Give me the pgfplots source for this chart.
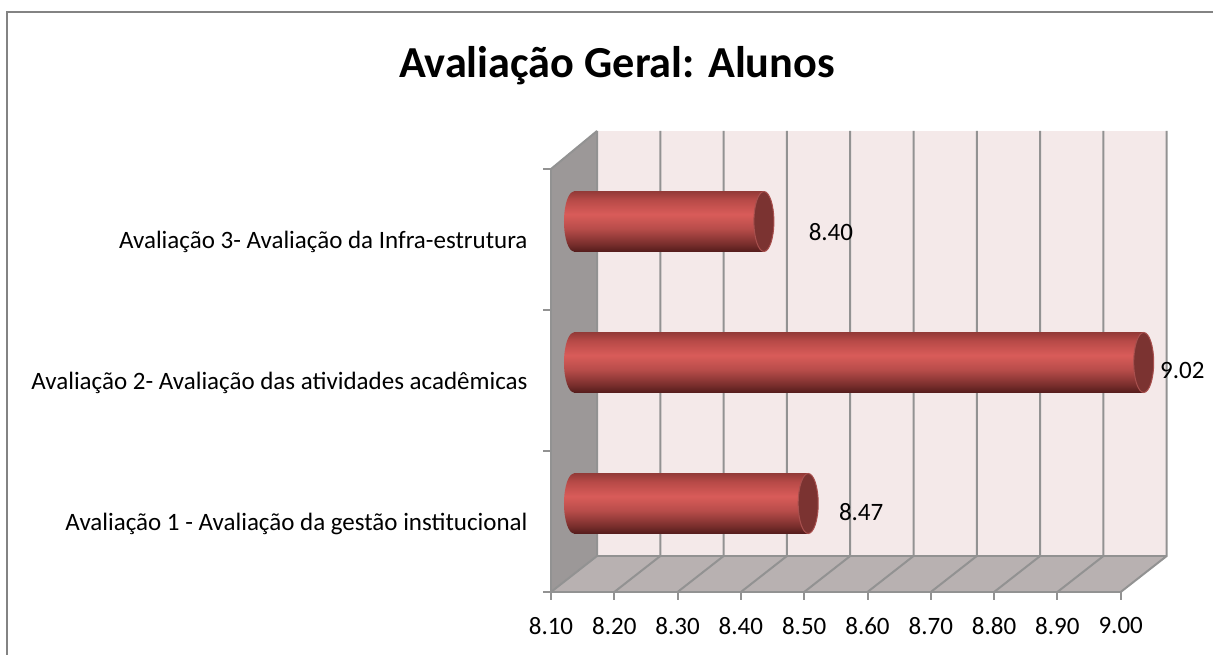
\documentclass[border=0pt]{standalone}
\usepackage{pgfplots}
\pgfplotsset{compat=1.18}
\usepackage{fontspec}
\setmainfont{Carlito}
\definecolor{wallc}{HTML}{F4E9E9}
\definecolor{sidec}{HTML}{9C9898}
\definecolor{floorc}{HTML}{B8B1B1}
\definecolor{gridc}{HTML}{929292}
\definecolor{capc}{HTML}{7B3331}
\definecolor{rimc}{HTML}{A8504E}
\pgfdeclareverticalshading{cyl}{100bp}{
 rgb(0bp)=(0.33,0.11,0.11);
 rgb(25bp)=(0.33,0.11,0.11);
 rgb(31bp)=(0.47,0.18,0.17);
 rgb(44bp)=(0.72,0.30,0.29);
 rgb(56bp)=(0.85,0.36,0.35);
 rgb(68bp)=(0.72,0.29,0.28);
 rgb(75bp)=(0.58,0.23,0.22);
 rgb(100bp)=(0.58,0.23,0.22)}
\pgfdeclareplotmark{cylleft}{%
 \pgfpathellipse{\pgfpointorigin}{\pgfqpoint{10pt}{0pt}}{\pgfqpoint{0pt}{30pt}}%
 \pgfshadepath{cyl}{0}\pgfusepath{discard}}
\pgfdeclareplotmark{cylcap}{%
 \pgfsetfillcolor{capc}\pgfsetstrokecolor{rimc}\pgfsetlinewidth{1pt}%
 \pgfpathellipse{\pgfpointorigin}{\pgfqpoint{10pt}{0pt}}{\pgfqpoint{0pt}{30pt}}%
 \pgfusepathqfillstroke}
\newcommand{\cylbar}[2]{% value, y centre of the category
 \addplot[mark=cylleft,only marks,xshift=23pt,yshift=18pt,forget plot] coordinates {(8.1,#2)};
 \addplot[draw=none,shade,shading=cyl,xshift=23pt,yshift=18pt,forget plot,restrict x to domain*=8.1:9]
   coordinates {(8.1,#2-0.2128) (#1,#2-0.2128) (#1,#2+0.2128) (8.1,#2+0.2128)} -- cycle;
 \addplot[mark=cylcap,only marks,xshift=23pt,yshift=18pt,forget plot,restrict x to domain*=8.1:9] coordinates {(#1,#2)};
}
\begin{document}
\begin{tikzpicture}
\path[use as bounding box] (0,0) rectangle (1213pt,655pt);
\draw[color=gridc!90!black,line width=2pt] (7pt,0) -- (7pt,643pt) -- (1213pt,643pt);
\node[font=\fontsize{44.3}{48}\selectfont\bfseries] at (617pt,589pt) {Avaliação Geral: Alunos};
\begin{axis}[
  at={(551pt,63pt)},anchor=south west,
  scale only axis,width=569.7pt,height=423pt,
  xmin=8.1,xmax=9,ymin=0,ymax=3,clip=false,
  axis on top,
  axis x line*=bottom,axis y line*=left,
  axis line style={color=gridc,line width=2pt,-},
  xtick={8.1,8.2,8.3,8.4,8.5,8.6,8.7,8.8,8.9,9.0},
  /pgf/number format/fixed,/pgf/number format/fixed zerofill,/pgf/number format/precision=2,/pgf/number format/assume math mode=true,
  ytick={0.5,1.5,2.5},
  yticklabels={Avaliação 1 - Avaliação da gestão institucional,Avaliação 2- Avaliação das atividades acadêmicas,Avaliação 3- Avaliação da Infra-estrutura},
  tick style={draw=none},
  x tick label style={yshift=-22pt},
  y tick label style={anchor=east,xshift=-20pt,yshift=-2pt},
  tick label style={font=\fontsize{25}{28}\selectfont},
]
\addplot[fill=sidec,draw=none,forget plot] coordinates {(8.1,0) (8.1727,0.2553) (8.1727,3.2695) (8.1,3)} -- cycle;
\addplot[fill=floorc,draw=none,forget plot] coordinates {(8.1,0) (9,0) (9.0727,0.2553) (8.1727,0.2553)} -- cycle;
\addplot[fill=wallc,draw=none,forget plot] coordinates {(8.1727,0.2553) (9.0727,0.2553) (9.0727,3.2695) (8.1727,3.2695)} -- cycle;
\pgfplotsinvokeforeach{8.1,8.2,8.3,8.4,8.5,8.6,8.7,8.8,8.9,9.0}{
  \draw[gridc,line width=2pt] (axis cs:#1,0) -- (axis cs:#1+0.0727,0.2553) -- (axis cs:#1+0.0727,3.2695);
  \draw[gridc,line width=2pt] (axis cs:#1,0) -- ++(0pt,-8pt);
}
\pgfplotsinvokeforeach{0,1,2,3}{
  \draw[gridc,line width=2pt] (axis cs:8.1,#1) -- ++(-8pt,0pt);
}
\draw[gridc,line width=2pt] (axis cs:8.1,3) -- (axis cs:8.1727,3.2695);
\draw[gridc,line width=1.5pt] (axis cs:8.1727,0.2553) -- (axis cs:9.0727,0.2553);
\draw[gridc,line width=2pt] (axis cs:8.1,0) -- (axis cs:9,0);
\draw[gridc,line width=2pt] (axis cs:8.1,0) -- (axis cs:8.1,3);
\cylbar{8.47}{0.5}
\cylbar{9.02}{1.5}
\cylbar{8.40}{2.5}
\node[font=\fontsize{25}{28}\selectfont] at (axis cs:8.5422,2.5532) {8.40};
\node[font=\fontsize{25}{28}\selectfont] at (axis cs:9.0973,1.5709) {9.02};
\node[font=\fontsize{25}{28}\selectfont] at (axis cs:8.5900,0.5674) {8.47};
\end{axis}
\end{tikzpicture}
\end{document}
